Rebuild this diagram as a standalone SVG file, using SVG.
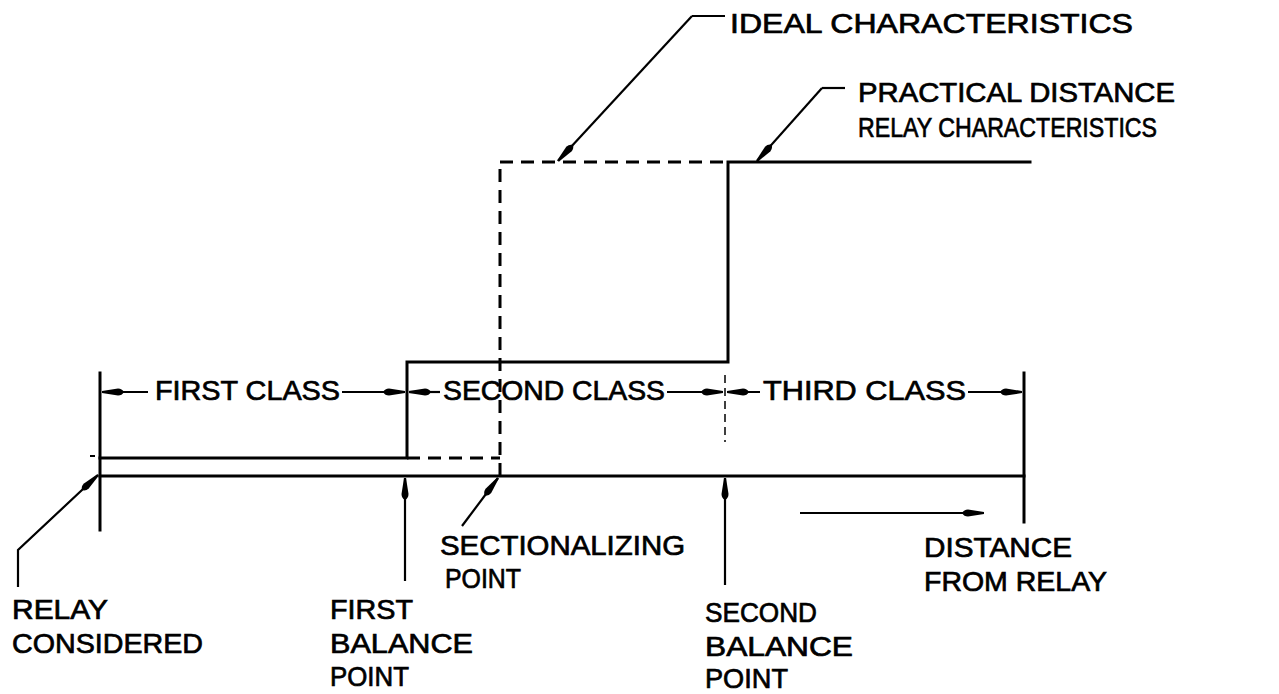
<svg xmlns="http://www.w3.org/2000/svg" width="1279" height="694" viewBox="0 0 1279 694">
<style>
.ln{stroke:#000;stroke-width:3;fill:none;stroke-linecap:square}
.dash{stroke:#000;stroke-width:3;fill:none;stroke-dasharray:13 8}
.thin{stroke:#000;stroke-width:2;fill:none}
.tdash{stroke:#000;stroke-width:1.5;fill:none;stroke-dasharray:8 5}
.lead{stroke:#000;stroke-width:2.2;fill:none;marker-end:url(#ah)}
text{font-family:"Liberation Sans",Arial,sans-serif;font-size:28px;fill:#000;stroke:#000;stroke-width:0.7}
</style>
<defs>
<marker id="ah" viewBox="0 0 22 10" refX="22" refY="5" markerWidth="22" markerHeight="10" markerUnits="userSpaceOnUse" orient="auto">
<path d="M0,5 Q2,1.5 6,1.5 L22,4 L22,6 L6,8.5 Q2,8.5 0,5 z" fill="#000"/>
</marker>
</defs>
<rect width="1279" height="694" fill="#fff"/>
<g id="axes">
<line class="ln" x1="100" y1="476" x2="1024" y2="476"/>
<line class="ln" x1="100" y1="373" x2="100" y2="530"/>
<line class="ln" x1="1024" y1="373" x2="1024" y2="522"/>
<line class="thin" x1="90" y1="456" x2="95" y2="456"/>
</g>
<g id="practical-characteristic">
<polyline class="ln" points="100,458 407,458 407,362 728,362 728,162 1030,162"/>
</g>
<g id="ideal-characteristic">
<line class="dash" x1="407" y1="458" x2="500" y2="458"/>
<line class="dash" x1="500" y1="476" x2="500" y2="162"/>
<line class="dash" x1="500" y1="162" x2="728" y2="162"/>
</g>
<g id="second-balance-tick">
<line class="tdash" x1="725" y1="375" x2="725" y2="442"/>
</g>
<g id="connectors">
<line class="lead" x1="148" y1="392" x2="102" y2="392"/>
<line class="lead" x1="342" y1="392" x2="405" y2="392"/>
<line class="lead" x1="440" y1="392" x2="409" y2="392"/>
<line class="lead" x1="667" y1="392" x2="723" y2="392"/>
<line class="lead" x1="760" y1="392" x2="727" y2="392"/>
<line class="lead" x1="968" y1="392" x2="1022" y2="392"/>
<polyline class="lead" points="692,16 725,16" style="marker-end:none"/>
<line class="lead" x1="692" y1="16" x2="558" y2="161"/>
<polyline class="lead" points="822,88 845,88" style="marker-end:none"/>
<line class="lead" x1="822" y1="88" x2="757" y2="161"/>
<polyline class="lead" points="18,587 18,550 98,475"/>
<line class="lead" x1="405" y1="581" x2="405" y2="478"/>
<line class="lead" x1="462" y1="526" x2="498" y2="478"/>
<line class="lead" x1="725" y1="585" x2="725" y2="478"/>
<line class="lead" x1="800" y1="513" x2="984" y2="513"/>
</g>
<g id="label-ideal"><text x="730" y="33" textLength="403" lengthAdjust="spacingAndGlyphs">IDEAL CHARACTERISTICS</text></g>
<g id="label-practical">
<text x="858" y="102" textLength="317" lengthAdjust="spacingAndGlyphs">PRACTICAL DISTANCE</text>
<text x="858" y="137" textLength="299" lengthAdjust="spacingAndGlyphs">RELAY CHARACTERISTICS</text>
</g>
<g id="label-classes">
<text x="155" y="400" textLength="185" lengthAdjust="spacingAndGlyphs">FIRST CLASS</text>
<text x="443" y="400" textLength="222" lengthAdjust="spacingAndGlyphs">SECOND CLASS</text>
<text x="763" y="400" textLength="203" lengthAdjust="spacingAndGlyphs">THIRD CLASS</text>
</g>
<g id="label-relay">
<text x="12" y="619" textLength="96" lengthAdjust="spacingAndGlyphs">RELAY</text>
<text x="12" y="653" textLength="191" lengthAdjust="spacingAndGlyphs">CONSIDERED</text>
</g>
<g id="label-first-balance">
<text x="330" y="619" textLength="83" lengthAdjust="spacingAndGlyphs">FIRST</text>
<text x="330" y="653" textLength="143" lengthAdjust="spacingAndGlyphs">BALANCE</text>
<text x="330" y="686" textLength="79" lengthAdjust="spacingAndGlyphs">POINT</text>
</g>
<g id="label-sectionalizing">
<text x="440" y="555" textLength="245" lengthAdjust="spacingAndGlyphs">SECTIONALIZING</text>
<text x="445" y="588" textLength="76" lengthAdjust="spacingAndGlyphs">POINT</text>
</g>
<g id="label-second-balance">
<text x="705" y="622" textLength="112" lengthAdjust="spacingAndGlyphs">SECOND</text>
<text x="705" y="656" textLength="148" lengthAdjust="spacingAndGlyphs">BALANCE</text>
<text x="705" y="688" textLength="83" lengthAdjust="spacingAndGlyphs">POINT</text>
</g>
<g id="label-distance">
<text x="924" y="557" textLength="148" lengthAdjust="spacingAndGlyphs">DISTANCE</text>
<text x="924" y="591" textLength="183" lengthAdjust="spacingAndGlyphs">FROM RELAY</text>
</g>
</svg>
